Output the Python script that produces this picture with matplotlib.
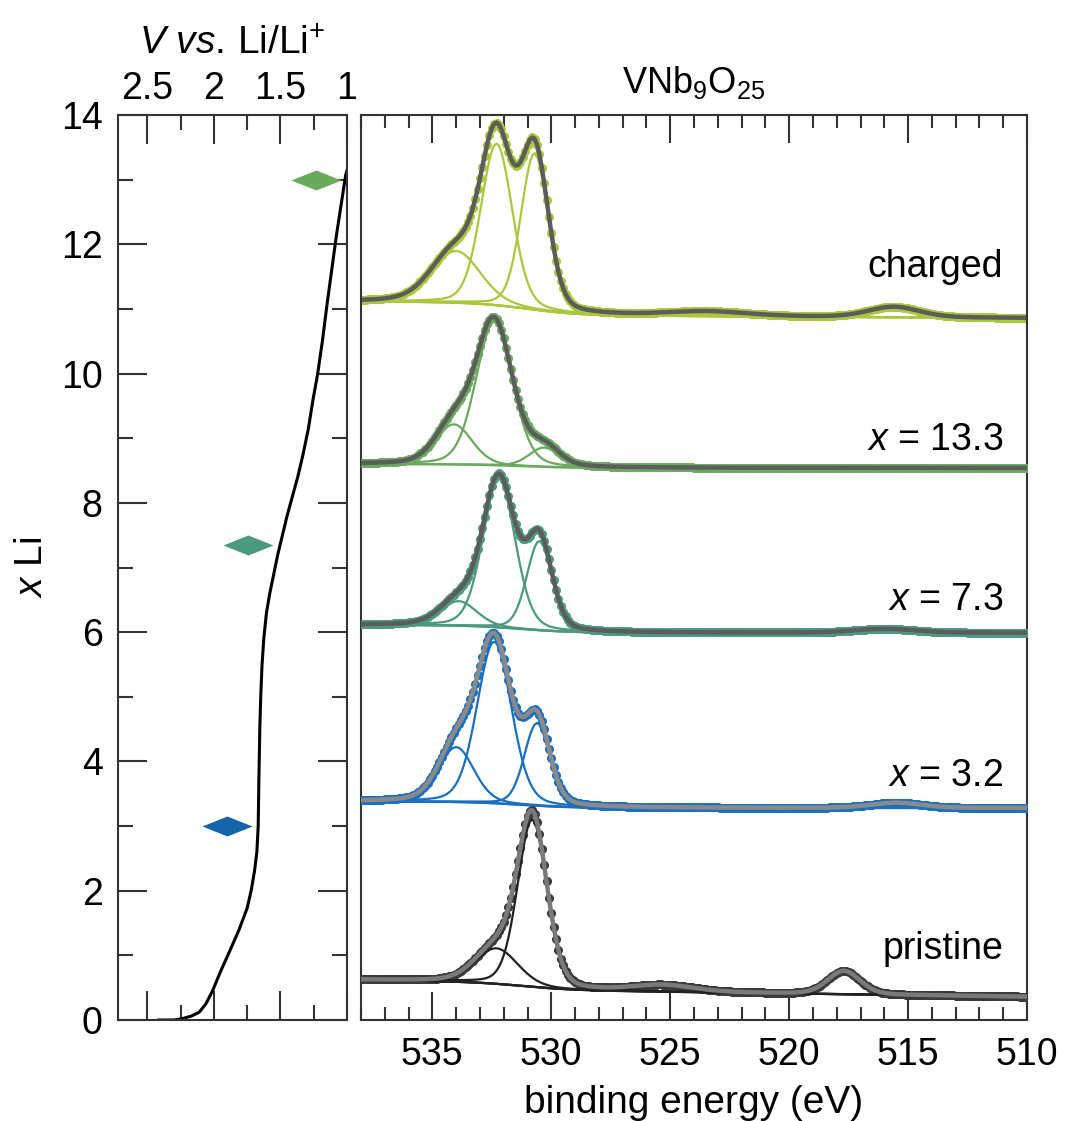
import numpy as np
import matplotlib
matplotlib.use("Agg")
import matplotlib.pyplot as plt
from matplotlib.ticker import MultipleLocator, FuncFormatter

plt.rcParams['font.family'] = ['Liberation Sans', 'DejaVu Sans']
plt.rcParams['mathtext.fontset'] = 'custom'
plt.rcParams['mathtext.rm'] = 'Liberation Sans'
plt.rcParams['mathtext.it'] = 'Liberation Sans:italic'
plt.rcParams['mathtext.bf'] = 'Liberation Sans:bold'

# ---------------- data: discharge curve ----------------
li_V = [2.42, 2.30, 2.24, 2.17, 2.11, 2.06, 2.01, 1.95, 1.88, 1.81, 1.75, 1.72,
        1.695, 1.677, 1.667, 1.662, 1.655, 1.648, 1.638, 1.625, 1.605, 1.58,
        1.55, 1.52, 1.485, 1.45, 1.41, 1.37, 1.33, 1.29, 1.255, 1.22, 1.185,
        1.15, 1.115, 1.08, 1.045, 1.01, 1.00]
li_x = [0.0, 0.0, 0.02, 0.06, 0.12, 0.25, 0.45, 0.75, 1.07, 1.40, 1.73, 2.0,
        2.3, 2.6, 3.0, 3.7, 4.5, 5.0, 5.5, 5.9, 6.3, 6.6,
        6.9, 7.2, 7.5, 7.8, 8.1, 8.4, 8.75, 9.15, 9.6, 10.0, 10.5,
        11.07, 11.6, 12.13, 12.6, 13.07, 13.15]
diamond_V = [1.90, 1.74, 1.23]
diamond_x = [3.0, 7.35, 13.0]
diamond_colors = ['#1565ad', '#4a9a80', '#6aaa5e']

# ---------------- data: XPS fits ----------------
spectrum_names = ['charged', '$\\mathit{x}$ = 13.3', '$\\mathit{x}$ = 7.3',
                  '$\\mathit{x}$ = 3.2', 'pristine']
label_y = [11.49, 8.82, 6.34, 3.62, 0.94]

base_right = [10.86, 8.54, 5.99, 3.28, 0.36]
bg_step = [0.20, 0.06, 0.12, 0.10, 0.12]
bg_slope = [0.002, 0.0, 0.0, 0.0, 0.005]
bg_center = [531.0, 531.5, 531.3, 531.3, 531.2]

charged_centers = [534.0, 532.3, 530.7, 523.5, 515.6]
charged_heights = [0.80, 2.50, 2.42, 0.07, 0.16]
charged_fwhm = [2.4, 1.55, 1.35, 4.0, 2.5]

x133_centers = [534.1, 532.4, 530.3]
x133_heights = [0.62, 2.22, 0.30]
x133_fwhm = [1.8, 1.8, 1.5]

x73_centers = [533.9, 532.2, 530.5, 516.0]
x73_heights = [0.38, 2.30, 1.38, 0.06]
x73_fwhm = [1.8, 1.6, 1.25, 3.0]

x32_centers = [534.0, 532.4, 530.6, 515.5]
x32_heights = [0.85, 2.50, 1.28, 0.08]
x32_fwhm = [1.75, 1.7, 1.25, 2.5]

pristine_centers = [532.3, 530.8, 525.3, 517.7]
pristine_heights = [0.55, 2.59, 0.10, 0.36]
pristine_fwhm = [2.1, 1.45, 3.0, 1.6]

all_centers = [charged_centers, x133_centers, x73_centers, x32_centers, pristine_centers]
all_heights = [charged_heights, x133_heights, x73_heights, x32_heights, pristine_heights]
all_fwhm = [charged_fwhm, x133_fwhm, x73_fwhm, x32_fwhm, pristine_fwhm]

data_colors = ['#a9c93a', '#6aaa5e', '#4b9a7f', '#1a70c0', '#3a3a3a']
comp_colors = ['#a9c93a', '#6aaa5e', '#4b9a7f', '#1a70c0', '#222222']
fit_colors = ['#5c5c5c', '#5c5c5c', '#5c5c5c', '#8a8a8a', '#7a7a7a']


def pvoigt(E, c, h, f, eta=0.2):
    s = f / 2.3548
    g = np.exp(-0.5 * ((E - c) / s) ** 2)
    l = 1.0 / (1.0 + (2 * (E - c) / f) ** 2)
    return h * ((1 - eta) * g + eta * l)


fig = plt.figure(figsize=(10.65, 11.21), dpi=100)
axL = fig.add_axes([118 / 1065, 101 / 1121, 229 / 1065, 905 / 1121])
axR = fig.add_axes([361 / 1065, 101 / 1121, 666 / 1065, 905 / 1121])

spine_c = '#333333'
for ax in (axL, axR):
    for s in ax.spines.values():
        s.set_linewidth(1.5)
        s.set_color(spine_c)

# ---------------- left panel ----------------
axL.plot(li_V, li_x, color='black', lw=2.2, solid_capstyle='round',
         solid_joinstyle='round')
diamond = [(-1, 0), (0, 0.4), (1, 0), (0, -0.4), (-1, 0)]
for v, xx, c in zip(diamond_V, diamond_x, diamond_colors):
    axL.plot([v], [xx], marker=diamond, ms=36, color=c, mec='none', ls='none')
axL.set_xlim(2.72, 1.0)
axL.set_ylim(0, 14)
axL.xaxis.set_major_locator(MultipleLocator(0.5))
axL.xaxis.set_minor_locator(MultipleLocator(0.25))
axL.yaxis.set_major_locator(MultipleLocator(2))
axL.yaxis.set_minor_locator(MultipleLocator(1))
axL.xaxis.set_major_formatter(FuncFormatter(lambda v, p: f"{v:g}"))
axL.tick_params(which='both', direction='in', top=True, bottom=True, left=True,
                right=True, labelbottom=False, labeltop=True, color=spine_c,
                width=1.5, labelsize=27)
axL.tick_params(which='major', length=21, pad=11)
axL.tick_params(axis='x', which='major', pad=6)
axL.tick_params(which='minor', length=11)
axL.xaxis.set_label_position('top')
axL.set_xlabel('$\\mathit{V}$ $\\mathit{vs.}\\,$Li/Li$^{+}$', fontsize=28, labelpad=12)
axL.set_ylabel('$\\mathit{x}$ Li', fontsize=28, labelpad=8)

# ---------------- right panel ----------------
E = np.arange(538.5, 509.45, -0.1)
for i in range(5):
    bg = (base_right[i] + bg_slope[i] * (E - 510)
          + bg_step[i] / (1 + np.exp(-(E - bg_center[i]) / 1.1)))
    comps = [pvoigt(E, c, h, f) for c, h, f in
             zip(all_centers[i], all_heights[i], all_fwhm[i])]
    env = bg + np.sum(comps, axis=0)
    z = 2 + i
    if i == 4:
        axR.plot(E, env, ls='none', marker='o', ms=5.5, color=data_colors[i],
                 mec=data_colors[i], zorder=z)
    else:
        axR.plot(E, env, ls='none', marker='o', ms=6.5, color=data_colors[i],
                 mec='none', zorder=z)
    axR.plot(E, bg, color=comp_colors[i], lw=1.6, zorder=z)
    for cp in comps:
        axR.plot(E, bg + cp, color=comp_colors[i], lw=1.6, zorder=z)
    axR.plot(E, env, color=fit_colors[i], lw=3.2, zorder=z + 0.5)
    axR.text(511.0, label_y[i], spectrum_names[i], ha='right', va='baseline',
             fontsize=27)

axR.set_xlim(538, 510)
axR.set_ylim(0, 14)
axR.xaxis.set_major_locator(MultipleLocator(5))
axR.xaxis.set_minor_locator(MultipleLocator(1))
axR.set_yticks([])
axR.tick_params(axis='x', which='both', direction='in', top=True, bottom=True,
                color=spine_c, width=1.5, labelsize=27)
axR.tick_params(axis='x', which='major', length=20, pad=12)
axR.tick_params(axis='x', which='minor', length=9.5)
axR.set_xlabel('binding energy (eV)', fontsize=28, labelpad=9)
axR.set_title('VNb$_{9}$O$_{25}$', fontsize=26, pad=16)

fig.savefig('out.png', dpi=100)
